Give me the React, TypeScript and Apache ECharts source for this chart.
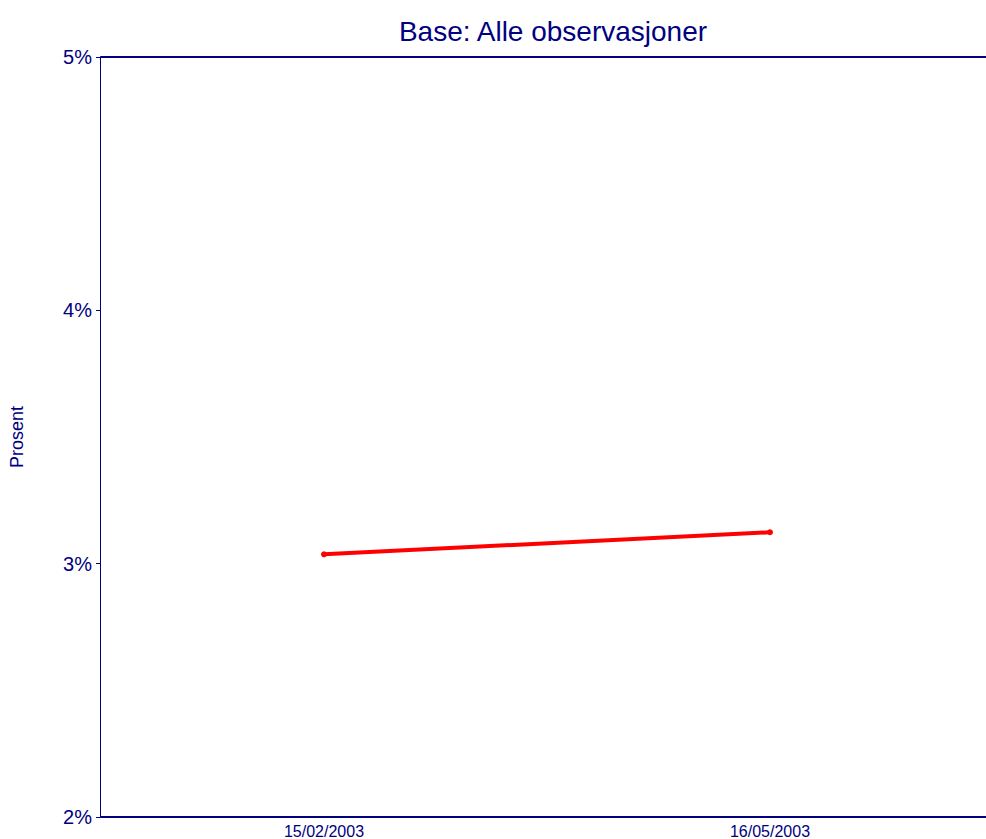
import React, { useEffect, useRef } from "react";
import * as echarts from "echarts";

const categories = ["15/02/2003", "16/05/2003"];
const values = [3.037, 3.124];
const yTicks = { min: 2, max: 5, interval: 1 };
const titleText = "Base: Alle observasjoner";
const yName = "Prosent";

const NAVY = "#000080";
const FONT = "'Liberation Sans', Arial, sans-serif";

export default function App() {
  const ref = useRef<HTMLDivElement>(null);
  useEffect(() => {
    if (!ref.current) return;
    const chart = echarts.init(ref.current, undefined, { renderer: "svg" });
    chart.setOption({
      animation: false,
      backgroundColor: "#ffffff",
      title: {
        text: titleText,
        left: 548,
        textAlign: "center",
        top: 12,
        textStyle: { color: NAVY, fontSize: 28, fontWeight: "normal", fontFamily: FONT },
      },
      grid: { left: 101, top: 57, width: 892, height: 760, containLabel: false, outerBoundsMode: "none" },
      xAxis: [
        {
          type: "category",
          data: categories,
          boundaryGap: true,
          position: "bottom",
          axisLine: { lineStyle: { color: NAVY, width: 2 } },
          axisTick: { alignWithLabel: true, length: 4, lineStyle: { color: NAVY } },
          axisLabel: { color: NAVY, fontSize: 16, fontFamily: FONT, margin: 6 },
          splitLine: { show: false },
        },
        {
          type: "category",
          data: categories,
          position: "top",
          axisLine: { lineStyle: { color: NAVY, width: 2 } },
          axisTick: { show: false },
          axisLabel: { show: false },
          splitLine: { show: false },
        },
      ],
      yAxis: {
        type: "value",
        min: yTicks.min,
        max: yTicks.max,
        interval: yTicks.interval,
        offset: 1,
        name: yName,
        nameLocation: "middle",
        nameRotate: 90,
        nameGap: 74,
        nameTextStyle: { color: NAVY, fontSize: 18, fontFamily: FONT },
        axisLine: { show: true, lineStyle: { color: NAVY, width: 1 } },
        axisTick: { show: true, length: 4, lineStyle: { color: NAVY } },
        axisLabel: { color: NAVY, fontSize: 20, fontFamily: FONT, margin: 8, formatter: "{value}%" },
        splitLine: { show: false },
      },
      series: [
        {
          type: "line",
          data: values,
          xAxisIndex: 0,
          symbol: "circle",
          symbolSize: 6,
          lineStyle: { color: "#ff0000", width: 4 },
          itemStyle: { color: "#ff0000" },
        },
      ],
    });
    return () => chart.dispose();
  }, []);
  return <div ref={ref} style={{ width: 986, height: 839, position: "absolute", left: 0, top: 0 }} />;
}
